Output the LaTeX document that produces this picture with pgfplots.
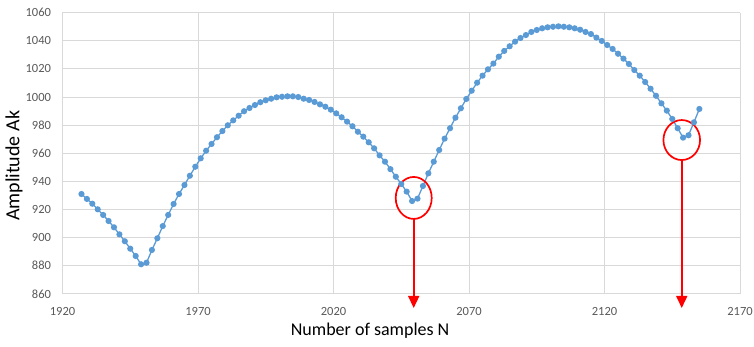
\documentclass[border=0pt]{standalone}
\usepackage{fontspec}
\setmainfont{Carlito}
\usepackage{pgfplots}
\pgfplotsset{compat=1.18}
\usetikzlibrary{arrows.meta}
\definecolor{exblue}{HTML}{5B9BD5}
\definecolor{gridc}{HTML}{D9D9D9}
\definecolor{tickc}{HTML}{595959}
\definecolor{arrred}{HTML}{FF0000}
\begin{document}
\begin{tikzpicture}
\path[use as bounding box] (-62.5pt,-53.2pt) rectangle (691.5pt,293.8pt);
\begin{axis}[
  scale only axis, width=677.5pt, height=281.1pt,
  xmin=1920, xmax=2170, ymin=860, ymax=1060,
  xtick={1920,1970,2020,2070,2120,2170},
  ytick={860,880,900,920,940,960,980,1000,1020,1040,1060},
  grid=major, grid style={gridc, line width=0.9pt},
  axis line style={draw=none},
  major tick length=0pt,
  tick label style={tickc, font=\fontsize{12.5}{14}\selectfont},
  /pgf/number format/assume math mode=true,
  /pgf/number format/1000 sep={},
  yticklabel style={anchor=east, xshift=-8pt},
  xticklabel style={anchor=north, yshift=-10pt},
  xlabel={Number of samples N}, ylabel={Amplitude Ak},
  xlabel style={font=\fontsize{18}{21}\selectfont, black, at={(axis description cs:0.454,-0.132)}, anchor=center},
  ylabel style={font=\fontsize{20}{23}\selectfont, black, at={(axis description cs:-0.0716,0.455)}, anchor=center},
  clip=false,
]
\addplot[exblue, line width=1.3pt, mark=*, mark size=2.4pt, mark options={fill=exblue, draw=exblue}] table {
N A
1927 931.0
1929 927.5
1931 924.1
1933 920.1
1935 916.1
1937 911.8
1939 907.3
1941 902.3
1943 897.4
1945 892.1
1947 886.9
1949 881.0
1951 882.1
1953 891.2
1955 899.5
1957 908.2
1959 916.1
1961 923.9
1963 931.0
1965 937.4
1967 944.0
1969 950.4
1971 956.4
1973 961.8
1975 966.6
1977 971.4
1979 975.8
1981 979.9
1983 983.4
1985 986.7
1987 989.9
1989 992.2
1991 994.3
1993 996.3
1995 997.7
1997 998.8
1999 999.8
2001 1000.2
2003 1000.5
2005 1000.5
2007 1000.0
2009 998.8
2011 997.9
2013 996.5
2015 994.8
2017 993.1
2019 991.0
2021 988.4
2023 985.6
2025 982.5
2027 979.2
2029 975.3
2031 971.8
2033 967.8
2035 963.5
2037 958.5
2039 954.0
2041 948.7
2043 943.3
2045 938.1
2047 932.7
2049 926.0
2051 927.7
2053 936.7
2055 945.7
2057 954.0
2059 962.3
2061 970.4
2063 977.8
2065 985.3
2067 992.0
2069 998.6
2071 1004.5
2073 1010.2
2075 1015.2
2077 1019.7
2079 1023.8
2081 1028.7
2083 1032.8
2085 1036.1
2087 1039.4
2089 1042.0
2091 1044.1
2093 1046.3
2095 1047.7
2097 1048.9
2099 1049.6
2101 1050.0
2103 1050.3
2105 1050.0
2107 1049.6
2109 1048.9
2111 1047.9
2113 1046.3
2115 1044.8
2117 1042.3
2119 1039.9
2121 1037.0
2123 1034.2
2125 1030.8
2127 1027.3
2129 1023.5
2131 1019.2
2133 1015.2
2135 1010.7
2137 1005.9
2139 1000.9
2141 995.5
2143 990.3
2145 984.4
2147 977.8
2149 971.1
2151 972.8
2153 982.0
2155 991.5
};
\draw[draw=arrred, line width=1.7pt] (axis cs:2049.6,928.2) ellipse [x radius=18pt, y radius=21pt];
\draw[draw=arrred, line width=1.7pt] (axis cs:2148.5,969.4) ellipse [x radius=18.3pt, y radius=20pt];
\draw[draw=arrred, fill=arrred, line width=1.6pt, -{Triangle[width=11pt,length=12pt]}] (axis cs:2049.6,913.3) -- (axis cs:2049.6,849.9);
\draw[draw=arrred, fill=arrred, line width=1.6pt, -{Triangle[width=11pt,length=12pt]}] (axis cs:2148.5,955.2) -- (axis cs:2148.5,849.9);
\end{axis}
\end{tikzpicture}
\end{document}
